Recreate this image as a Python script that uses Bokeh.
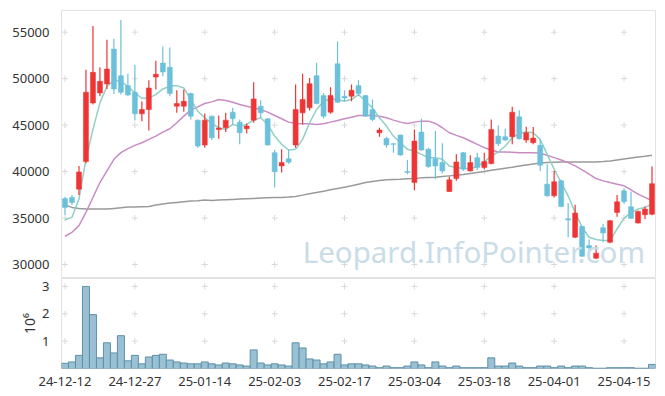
from bokeh.plotting import figure
from bokeh.layouts import column
from bokeh.models import ColumnDataSource, FixedTicker, CustomJSTickFormatter, Range1d, Label
from bokeh.embed import file_html
from bokeh.resources import INLINE

dates = ["24-12-12","24-12-13","24-12-16","24-12-17","24-12-18","24-12-19","24-12-20","24-12-23","24-12-24","24-12-26",
         "24-12-27","24-12-30","25-01-02","25-01-03","25-01-06","25-01-07","25-01-08","25-01-09","25-01-10","25-01-13",
         "25-01-14","25-01-15","25-01-16","25-01-17","25-01-20","25-01-21","25-01-22","25-01-23","25-01-24","25-01-31",
         "25-02-03","25-02-04","25-02-05","25-02-06","25-02-07","25-02-10","25-02-11","25-02-12","25-02-13","25-02-14",
         "25-02-17","25-02-18","25-02-19","25-02-20","25-02-21","25-02-24","25-02-25","25-02-26","25-02-27","25-02-28",
         "25-03-04","25-03-05","25-03-06","25-03-07","25-03-10","25-03-11","25-03-12","25-03-13","25-03-14","25-03-17",
         "25-03-18","25-03-19","25-03-20","25-03-21","25-03-24","25-03-25","25-03-26","25-03-27","25-03-28","25-03-31",
         "25-04-01","25-04-02","25-04-03","25-04-04","25-04-07","25-04-08","25-04-09","25-04-10","25-04-11","25-04-14",
         "25-04-15","25-04-16","25-04-17","25-04-18","25-04-21"]

opens = [37109,37217,38109,41073,47394,48465,49429,53179,50322,49251,
         48536,46215,46680,50179,51679,51215,47037,47037,48394,45537,
         42859,45965,44537,44716,46394,45322,44608,45537,47037,45680,
         42037,40609,41378,42858,46322,46858,50322,48179,46394,51607,
         48108,48108,49251,48179,46680,44180,43573,43001,43930,40002,
         38823,44251,42394,41394,40966,37859,39252,42037,40073,41501,
         40430,40859,43823,43751,43751,45894,43394,43108,42823,38645,
         37395,39002,34931,32932,34110,32039,30682,33967,32396,35610,
         37931,36217,34467,35360,35400]
highs = [37288,37467,40609,50965,55679,51215,54179,54286,56321,50536,
         51500,47537,49822,51929,53464,53357,48751,48822,48500,45600,
         46251,46036,46037,46322,46858,45608,45180,49608,47680,45750,
         42323,42394,42346,49358,50536,50072,51679,48465,49072,54000,
         48751,49358,49822,48250,47751,44716,43751,43050,44000,41251,
         44537,45680,42573,44358,43037,39466,41858,42108,41751,42037,
         42037,45608,44966,44608,46965,46608,44823,44787,43394,40787,
         40073,39109,36609,36431,34150,32682,32039,34360,34800,37467,
         38216,37860,35800,36252,40537]
lows = [35323,36395,37467,40894,47215,48108,48894,48358,48287,48108,
        45501,45430,44430,48822,50250,48108,46322,46430,45608,42573,
        42573,43394,43537,44251,45073,42930,44108,45251,45787,42800,
        38288,39895,40840,42573,45073,46572,47250,45715,46215,47394,
        47572,47572,48108,45900,45430,43751,42573,42037,41700,39716,
        38002,42250,40400,39180,39823,37800,39002,40073,40000,40180,
        40251,40800,42752,43300,42930,43450,43108,42930,40073,37300,
        37217,36150,32932,32850,30800,31325,30600,32396,32300,35145,
        36502,34895,34400,34895,35300]
closes = [36145,36681,39966,48536,50679,49715,51036,48894,48536,48251,
          46215,46680,49001,50465,50715,48394,47322,47572,45965,42751,
          45537,43644,44680,45537,45680,44180,44894,47822,46322,42858,
          40002,40966,41012,46680,47751,49465,47322,45965,48179,47465,
          47929,48751,48394,45965,45608,44466,42859,42930,41787,39895,
          43287,42323,40537,40609,40073,39109,41037,40251,40966,40430,
          41073,44537,43001,43394,46394,43537,44180,43608,40680,37395,
          38895,36252,34788,35538,30896,31789,31218,33396,34717,36752,
          36752,34967,35717,35967,38700]
volumes = [0.19,0.24,0.48,3.0,1.97,0.39,0.94,0.57,1.2,0.28,
           0.48,0.17,0.42,0.48,0.52,0.31,0.24,0.2,0.17,0.17,
           0.24,0.17,0.13,0.2,0.17,0.13,0.09,0.68,0.2,0.13,
           0.17,0.13,0.09,0.94,0.75,0.35,0.31,0.17,0.24,0.52,
           0.13,0.17,0.17,0.13,0.09,0.03,0.09,0.03,0.03,0.09,
           0.24,0.13,0.03,0.24,0.09,0.03,0.09,0.03,0.03,0.03,
           0.03,0.39,0.09,0.09,0.2,0.09,0.03,0.03,0.09,0.09,
           0.03,0.09,0.03,0.09,0.09,0.03,0.01,0.01,0.03,0.03,
           0.03,0.03,0.01,0.01,0.15]
volumes = [v * 1e6 for v in volumes]

ma5 = [34824,35074,37037,41323,44537,47394,49179,49822,49715,49179,
       48465,47894,47929,48287,48894,49179,49251,49001,47751,46501,
       45787,45180,44716,44537,45073,44894,45073,45537,45787,45073,
       43823,42930,42323,42394,43465,45251,46680,47572,47822,47751,
       47572,47751,48287,47572,46858,45787,44894,43823,43108,42394,
       42216,41858,41501,41501,41323,40609,40430,40323,40323,40537,
       41037,41680,42108,42751,43644,44108,44251,44180,43465,41858,
       40251,38823,37395,35610,34003,32932,32682,32575,32575,33824,
       34967,35610,35967,36145,36502]
ma20 = [33039,33467,34181,35610,37217,38823,40073,41323,42037,42466,
        42823,43108,43465,43823,44251,44608,45251,45965,46608,46965,
        47322,47501,47751,47644,47465,47215,47037,46858,46680,46394,
        46036,45680,45323,45180,45144,45144,45073,45144,45323,45501,
        45680,45858,46036,46036,46036,45965,45787,45537,45323,45180,
        45323,45430,45430,45180,44716,44180,43894,43644,43287,42930,
        42573,42323,42108,42108,42073,42037,42037,42037,41966,41751,
        41501,41251,40966,40609,40180,39716,39252,39002,38823,38645,
        38466,38038,37573,37217,36859]
ma60 = [36395,36145,36038,35967,35967,35967,35967,36038,36109,36181,
        36181,36216,36252,36395,36502,36609,36681,36752,36823,36859,
        36931,36895,36931,36966,37002,37038,37073,37109,37145,37181,
        37217,37217,37252,37324,37467,37609,37752,37895,38038,38181,
        38323,38466,38645,38823,38930,39038,39109,39145,39180,39216,
        39252,39323,39359,39395,39466,39538,39609,39680,39787,39895,
        40002,40144,40251,40359,40466,40609,40716,40823,40930,40966,
        41001,41037,41037,41037,41037,41037,41037,41073,41144,41251,
        41358,41466,41573,41644,41751]

price_ticks = [30000, 35000, 40000, 45000, 50000, 55000]
vol_ticks = [1e6, 2e6, 3e6]
x_ticks = [0, 10, 20, 30, 40, 50, 60, 70, 80]

RED = "#ee3535"
BLUE = "#6cc0da"
FONT = "Noto Sans"
GRIDC = "#d9d9d9"

idx = list(range(len(dates)))
up = [c >= o for o, c in zip(opens, closes)]

def sub(mask):
    return ColumnDataSource(dict(
        x=[i for i, m in zip(idx, mask) if m],
        top=[max(o, c) for o, c, m in zip(opens, closes, mask) if m],
        bottom=[min(o, c) for o, c, m in zip(opens, closes, mask) if m],
        high=[h for h, m in zip(highs, mask) if m],
        low=[l for l, m in zip(lows, mask) if m],
    ))

src_up = sub(up)
src_dn = sub([not u for u in up])

xr = Range1d(-0.5, len(dates) - 0.5)

p = figure(width=665, height=278, x_range=xr, y_range=Range1d(28494, 57335),
           output_backend="svg", toolbar_location=None,
           min_border_left=61, min_border_right=10, min_border_top=10, min_border_bottom=0)
p.xaxis.visible = False
p.grid.grid_line_color = None
p.outline_line_color = "#e3e3e3"
p.background_fill_color = "white"

# grid crosses
gx = [x for x in x_ticks for _ in price_ticks]
gy = [y for _ in x_ticks for y in price_ticks]
p.scatter(gx, gy, marker="cross", size=6, line_color=GRIDC, line_width=1)

# watermark
p.add_layout(Label(x=83.0, y=31400, text="Leopard.InfoPointer.com",
                   text_align="right", text_baseline="alphabetic",
                   text_font=FONT, text_font_size="29.5px", text_color="#c9dce8"))

# MA lines
p.line(idx, ma60, line_color="#9a9a9a", line_width=1.5)
p.line(idx, ma20, line_color="#c98cc4", line_width=1.5)
p.line(idx, ma5, line_color="#90d0c6", line_width=1.5)

for src, col in ((src_up, RED), (src_dn, BLUE)):
    p.segment(x0="x", x1="x", y0="low", y1="high", source=src, line_color=col, line_width=1.2)
    p.vbar(x="x", top="top", bottom="bottom", width=0.72, source=src,
           fill_color=col, line_color=col, line_width=0.5)

ya = p.yaxis[0]
ya.ticker = FixedTicker(ticks=price_ticks)
ya.axis_line_color = None
ya.major_tick_line_color = None
ya.minor_tick_line_color = None
ya.major_label_text_font = FONT
ya.major_label_text_font_size = "13px"
ya.major_label_text_color = "#333333"
ya.major_label_standoff = 6

v = figure(width=665, height=116, x_range=xr, y_range=Range1d(0, 3.29e6),
           output_backend="svg", toolbar_location=None,
           min_border_left=61, min_border_right=10, min_border_top=0, min_border_bottom=26)
v.grid.grid_line_color = None
v.outline_line_color = "#e3e3e3"

vx = [x for x in x_ticks for _ in vol_ticks]
vy = [y for _ in x_ticks for y in vol_ticks]
v.scatter(vx, vy, marker="cross", size=6, line_color=GRIDC, line_width=1)

v.vbar(x=idx, top=volumes, bottom=0, width=1.0, fill_color="#99c1d3",
       line_color="#5e90a8", line_width=1)

vy_ax = v.yaxis[0]
vy_ax.ticker = FixedTicker(ticks=vol_ticks)
vy_ax.formatter = CustomJSTickFormatter(code="return String(Math.round(tick/1e6));")
vy_ax.axis_line_color = None
vy_ax.major_tick_line_color = None
vy_ax.minor_tick_line_color = None
vy_ax.major_label_text_font = FONT
vy_ax.major_label_text_font_size = "13px"
vy_ax.major_label_text_color = "#333333"
vy_ax.major_label_standoff = 6
vy_ax.axis_label = "10⁶"
vy_ax.axis_label_text_font = FONT
vy_ax.axis_label_text_font_size = "14px"
vy_ax.axis_label_text_font_style = "normal"
vy_ax.axis_label_text_color = "#333333"
vy_ax.axis_label_standoff = 0

xa = v.xaxis[0]
xa.ticker = FixedTicker(ticks=x_ticks)
xa.major_label_overrides = {i: dates[i] for i in x_ticks}
xa.axis_line_color = None
xa.major_tick_line_color = None
xa.minor_tick_line_color = None
xa.major_label_text_font = FONT
xa.major_label_text_font_size = "13px"
xa.major_label_text_color = "#333333"
xa.major_label_standoff = 2

layout = column(p, v, spacing=0)
open("out.html", "w").write(file_html(layout, INLINE))
